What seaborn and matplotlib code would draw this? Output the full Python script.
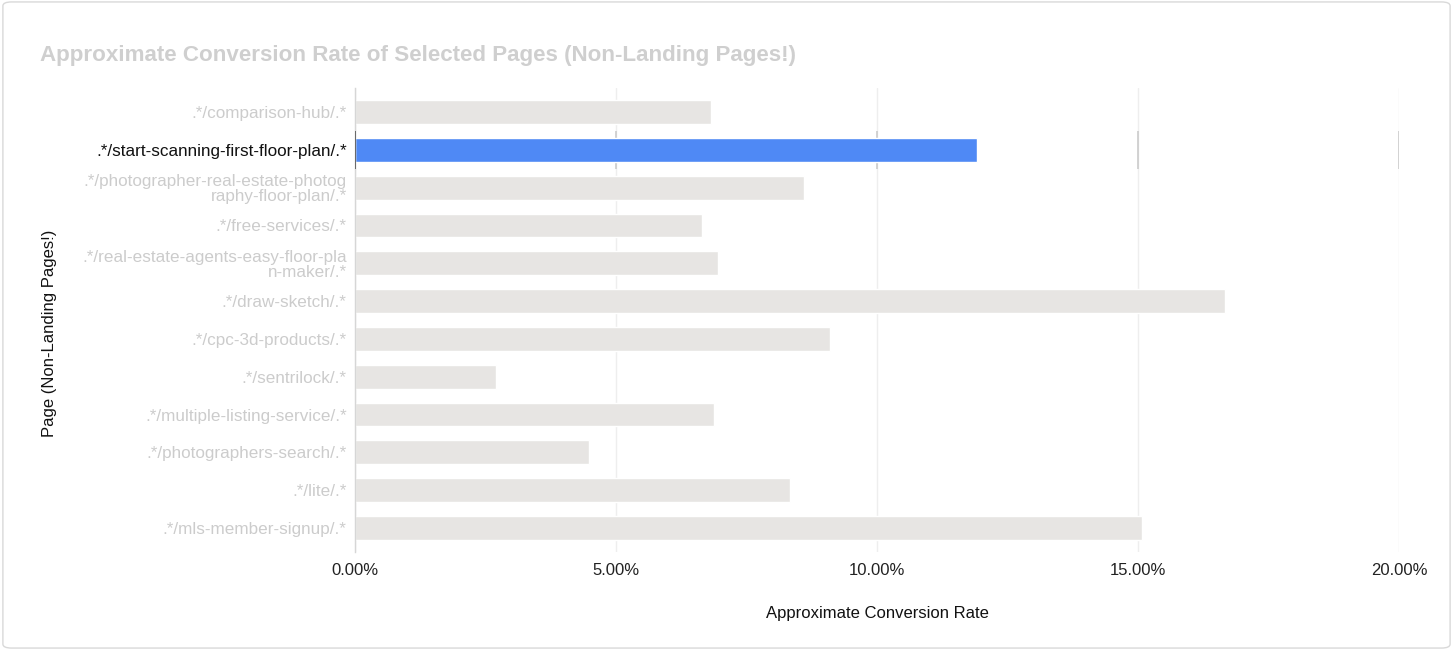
import matplotlib
matplotlib.use("Agg")
import matplotlib.pyplot as plt
import seaborn as sns
import pandas as pd
from matplotlib.patches import FancyBboxPatch
from matplotlib.ticker import FuncFormatter

pages = [
    ".*/comparison-hub/.*",
    ".*/start-scanning-first-floor-plan/.*",
    ".*/photographer-real-estate-photog\nraphy-floor-plan/.*",
    ".*/free-services/.*",
    ".*/real-estate-agents-easy-floor-pla\nn-maker/.*",
    ".*/draw-sketch/.*",
    ".*/cpc-3d-products/.*",
    ".*/sentrilock/.*",
    ".*/multiple-listing-service/.*",
    ".*/photographers-search/.*",
    ".*/lite/.*",
    ".*/mls-member-signup/.*",
]
rates = [6.82, 11.92, 8.60, 6.65, 6.95, 16.67, 9.10, 2.70, 6.88, 4.48, 8.33, 15.08]
highlight = ".*/start-scanning-first-floor-plan/.*"
x_ticks = [0, 5, 10, 15, 20]

sns.set_theme(style="white")
plt.rcParams["font.family"] = ["Liberation Sans", "DejaVu Sans"]

df = pd.DataFrame({"page": pages, "rate": rates})
palette = {p: ("#4f89f5" if p == highlight else "#e7e5e3") for p in pages}

fig = plt.figure(figsize=(14.53, 6.5), dpi=100)
border = FancyBboxPatch((0.002, 0.003), 0.996, 0.994, boxstyle="round,pad=0,rounding_size=0.006",
                        transform=fig.transFigure, facecolor="none", edgecolor="#d9d9d9", lw=1.0, zorder=-10)
fig.patches.append(border)
ax = fig.add_axes([355 / 1453, 1 - 552 / 650, (1399 - 355) / 1453, (552 - 88) / 650])
ax.set_facecolor("none")

sns.barplot(data=df, x="rate", y="page", hue="page", palette=palette, legend=False,
            width=0.63, ax=ax, saturation=1, zorder=3)

n = len(pages)
ax.set_ylim(n - 1 + 0.635, -0.635)
ax.set_xlim(0, 20)
ax.set_xticks(x_ticks)
ax.xaxis.set_major_formatter(FuncFormatter(lambda v, p: f"{v:.2f}%"))
ax.grid(axis="x", color="#eeeeee", lw=1, zorder=0)
ax.grid(axis="y", visible=False)
ax.set_axisbelow(True)
for s in ["top", "right", "bottom"]:
    ax.spines[s].set_visible(False)
ax.spines["left"].set_color("#d6d6d6")
ax.spines["left"].set_linewidth(1)
ax.spines["left"].set_zorder(4)

# darker gridline segments in highlighted row
hi = pages.index(highlight)
for xv in x_ticks:
    ax.vlines(xv, hi - 0.5, hi + 0.5, color="#555555" if xv == 0 else "#cccccc", lw=1.2, zorder=5 if xv == 0 else 1)

ax.tick_params(axis="x", length=0, pad=8, labelsize=12, labelcolor="#222222")
ax.tick_params(axis="y", length=0, pad=6, labelsize=12.3)
for lbl in ax.get_yticklabels():
    lbl.set_color("#111111" if lbl.get_text() == highlight else "#cccccc")
    lbl.set_linespacing(1.0)

ax.set_xlabel("Approximate Conversion Rate", fontsize=12, color="#111111", labelpad=20)
ax.set_ylabel("Page (Non-Landing Pages!)", fontsize=12, color="#111111")
ax.yaxis.set_label_coords((57 - 355) / (1399 - 355), (552 - 333) / (552 - 88))

fig.text(40 / 1453, 1 - 55 / 650, "Approximate Conversion Rate of Selected Pages (Non-Landing Pages!)",
         fontsize=16.1, fontweight="bold", color="#cfcfcf", va="center", ha="left")

fig.savefig("out.png", dpi=100)
